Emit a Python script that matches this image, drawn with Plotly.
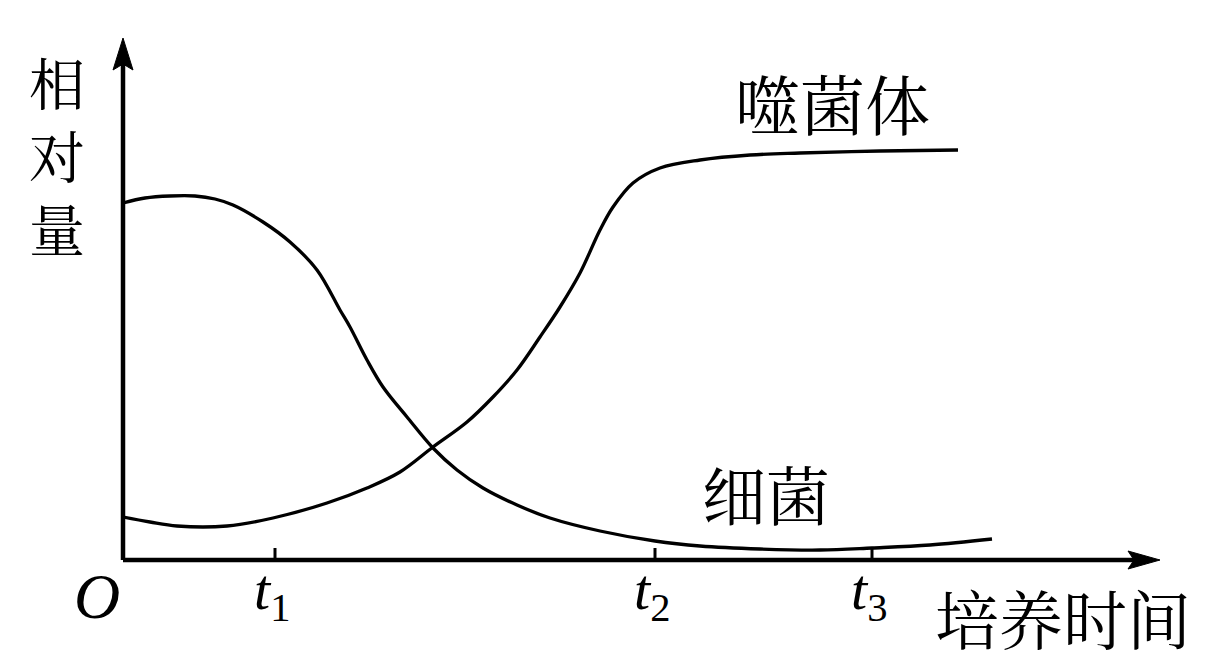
import plotly.graph_objects as go

# data (arbitrary units: time from origin, relative amount above axis)
bact_x = [0, 22, 47, 72, 92, 110, 140, 167, 194, 217, 227, 244, 260, 284, 310, 334, 360, 394, 427, 477, 532, 577, 637, 697, 749, 807, 869]
bact_y = [357, 362, 364, 364, 361, 355, 338, 318, 290, 250, 233, 200, 173, 143, 112, 90, 72, 55, 42, 29, 19, 14, 11, 10, 12, 15, 21]
phage_x = [0, 27, 54, 104, 150, 204, 244, 277, 310, 344, 370, 394, 417, 437, 457, 477, 490, 510, 537, 577, 627, 677, 757, 835]
phage_y = [43, 38, 34, 34, 42, 57, 72, 88, 113, 138, 163, 190, 223, 253, 287, 330, 353, 377, 392, 400, 405, 407, 409, 410]
tick_x = [152, 532, 749]
tick_labels = ["1", "2", "3"]
y_title = "相<br>对<br>量"

CJK = "Noto Serif CJK SC, Noto Sans CJK SC, sans-serif"
SERIF = "Liberation Serif, serif"
BLACK = "#000000"

fig = go.Figure()
fig.add_trace(go.Scatter(x=bact_x, y=bact_y, mode="lines",
                         line=dict(color=BLACK, width=3.3, shape="spline", smoothing=1.0),
                         hoverinfo="skip", showlegend=False))
fig.add_trace(go.Scatter(x=phage_x, y=phage_y, mode="lines",
                         line=dict(color=BLACK, width=3.3, shape="spline", smoothing=1.0),
                         hoverinfo="skip", showlegend=False))

shapes = []
# axes
shapes.append(dict(type="line", x0=0, y0=0, x1=0, y1=505, line=dict(color=BLACK, width=4.5)))
shapes.append(dict(type="line", x0=0, y0=0, x1=1020, y1=0, line=dict(color=BLACK, width=4.5)))
# arrow heads
shapes.append(dict(type="path", path="M -10,490 L 0,522 L 10,490 L 0,496 Z",
                   fillcolor=BLACK, line=dict(color=BLACK, width=1)))
shapes.append(dict(type="path", path="M 1005,9 L 1037,0 L 1005,-9 L 1011,0 Z",
                   fillcolor=BLACK, line=dict(color=BLACK, width=1)))
for tx in tick_x:
    shapes.append(dict(type="line", x0=tx, y0=0, x1=tx, y1=12, line=dict(color=BLACK, width=3)))

annotations = []
annotations.append(dict(x=-66, y=406, text=y_title, showarrow=False,
                        font=dict(family=CJK, size=56, color=BLACK),
                        xanchor="center", yanchor="middle"))
annotations.append(dict(x=-26, y=-36, text="<i>O</i>", showarrow=False,
                        font=dict(family=SERIF, size=64, color=BLACK),
                        xanchor="center", yanchor="middle"))
for tx, lab in zip(tick_x, tick_labels):
    annotations.append(dict(x=tx - 3, y=-33, text="<i>t</i><sub>" + lab + "</sub>", showarrow=False,
                            font=dict(family=SERIF, size=58, color=BLACK),
                            xanchor="center", yanchor="middle"))
annotations.append(dict(x=940, y=-56, text="培养时间", showarrow=False,
                        font=dict(family=CJK, size=64, color=BLACK),
                        xanchor="center", yanchor="middle"))
annotations.append(dict(x=709, y=458, text="噬菌体", showarrow=False,
                        font=dict(family=CJK, size=65, color=BLACK),
                        xanchor="center", yanchor="middle"))
annotations.append(dict(x=643, y=68, text="细菌", showarrow=False,
                        font=dict(family=CJK, size=64, color=BLACK),
                        xanchor="center", yanchor="middle"))

fig.update_layout(
    width=1216, height=666,
    margin=dict(l=0, r=0, t=0, b=0),
    paper_bgcolor="white", plot_bgcolor="white",
    xaxis=dict(range=[-123, 1093], visible=False, fixedrange=True),
    yaxis=dict(range=[-106, 560], visible=False, fixedrange=True),
    shapes=shapes, annotations=annotations, showlegend=False,
)
fig.write_html("out.html", config={"displayModeBar": False, "staticPlot": True},
               post_script="document.body.style.margin='0';document.body.style.overflow='hidden';")
